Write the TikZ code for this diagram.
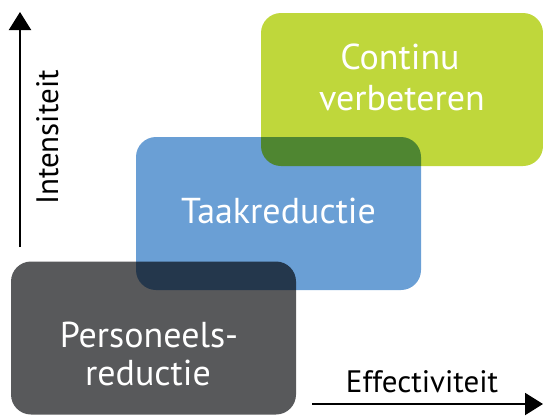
\documentclass[tikz,border=0pt]{standalone}
\usepackage{fontspec}
\setmainfont{PT Sans}
\usetikzlibrary{arrows.meta,positioning}

\definecolor{greenbox}{HTML}{BFD73B}
\definecolor{bluebox}{HTML}{6A9FD5}
\definecolor{graybox}{HTML}{58595B}

\tikzset{
  area/.style={rounded corners=20pt, minimum width=285pt, minimum height=153pt, inner sep=0pt},
  areatext/.style={text=white, font=\fontsize{36}{41}\selectfont, anchor=base, inner sep=0pt},
  axis/.style={line width=2pt, -{Triangle[width=22pt,length=18pt]}},
  axistext/.style={font=\fontsize{31}{33}\selectfont, anchor=base, inner sep=0pt}
}

\begin{document}
\begin{tikzpicture}[x=1pt,y=-1pt]
  \useasboundingbox (0,0) rectangle (543,415);

  % the three areas, overlaps darkened by multiply
  \begin{scope}[blend group=multiply]
    \node[area, fill=greenbox, minimum width=282pt] (cont) at (402,89.5) {};
    \node[area, fill=bluebox] (taak) at (278.5,213.5) {};
    \node[area, fill=graybox] (pers) at (153.5,338) {};
  \end{scope}

  \node[areatext] (contA) at (400,69) {Continu};
  \node[areatext] (contB) at (402,110) {verbeteren};
  \node[areatext] (taakA) at (278.5,223) {Taakreductie};
  \node[areatext] (persA) at (149,347) {Personeels-};
  \node[areatext] (persB) at (148,385) {reductie};

  % axes
  \coordinate (ybot) at (20,247);
  \coordinate (ytop) at (20,12);
  \coordinate (xleft) at (312,404);
  \coordinate (xright) at (543,404);
  \draw[axis] (ybot) -- (ytop);
  \draw[axis] (xleft) -- (xright);
  \node[axistext, rotate=90] (ylab) at (58,137.5) {Intensiteit};
  \node[axistext] (xlab) at (422,392) {Effectiviteit};
\end{tikzpicture}
\end{document}
